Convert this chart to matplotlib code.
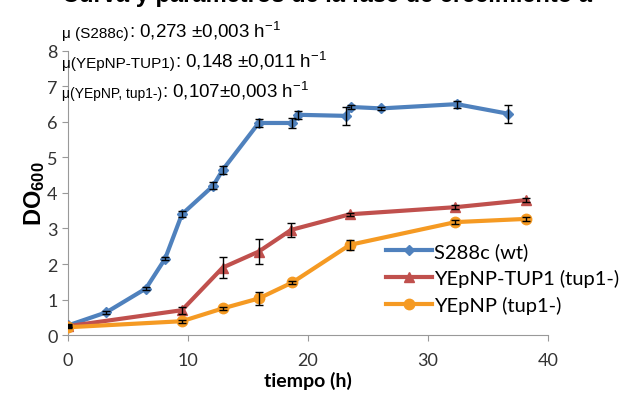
import matplotlib.pyplot as plt

plt.rcParams['font.family'] = ['Lato', 'DejaVu Sans']
plt.rcParams['mathtext.fontset'] = 'custom'
plt.rcParams['mathtext.rm'] = 'Liberation Sans'
plt.rcParams['mathtext.it'] = 'Liberation Sans'
plt.rcParams['mathtext.bf'] = 'Liberation Sans:bold'

# S288c (wt)
t_wt = [0, 3.2, 6.5, 8.1, 9.5, 12.1, 12.9, 15.9, 18.7, 19.2, 23.2, 23.6, 26.1, 32.4, 36.7]
do_wt = [0.27, 0.64, 1.31, 2.15, 3.4, 4.2, 4.65, 5.97, 5.97, 6.2, 6.17, 6.42, 6.38, 6.5, 6.23]
err_wt = [0.03, 0.05, 0.05, 0.05, 0.08, 0.1, 0.12, 0.1, 0.15, 0.12, 0.25, 0.05, 0.05, 0.1, 0.25]

# YEpNP-TUP1 (tup1-)
t_tup = [0, 9.5, 12.9, 15.9, 18.6, 23.5, 32.3, 38.2]
do_tup = [0.25, 0.7, 1.9, 2.35, 2.96, 3.4, 3.6, 3.8]
err_tup = [0.03, 0.1, 0.3, 0.35, 0.2, 0.05, 0.05, 0.05]

# YEpNP (tup1-)
t_ynp = [0, 9.5, 12.9, 15.9, 18.7, 23.5, 32.3, 38.2]
do_ynp = [0.22, 0.39, 0.75, 1.03, 1.48, 2.54, 3.18, 3.27]
err_ynp = [0.03, 0.04, 0.05, 0.18, 0.05, 0.15, 0.05, 0.05]

mu_labels = ["μ (S288c)", "μ(YEpNP-TUP1)", "μ(YEpNP, tup1-)"]
mu_values = [": 0,273 ±0,003 h$^{-1}$", ": 0,148 ±0,011 h$^{-1}$", ": 0,107±0,003 h$^{-1}$"]

W, H = 629, 402
fig = plt.figure(figsize=(W / 100, H / 100), dpi=100)
ax = fig.add_axes([0.108, 0.164, 0.763, 0.707])

series = [
    (t_wt, do_wt, err_wt, '#4F81BD', 'D', 5.5, 'S288c (wt)'),
    (t_tup, do_tup, err_tup, '#C0504D', '^', 7.5, 'YEpNP-TUP1 (tup1-)'),
    (t_ynp, do_ynp, err_ynp, '#F59A23', 'o', 7.5, 'YEpNP (tup1-)'),
]
for t, d, e, c, m, ms, lab in series:
    ax.plot(t, d, color=c, lw=3, marker=m, ms=ms, label=lab, zorder=3)
    ax.errorbar(t, d, yerr=e, fmt='none', ecolor='black', elinewidth=1,
                capsize=3, zorder=4)

ax.set_xlim(0, 40)
ax.set_ylim(0, 8)
ax.set_xticks([0, 10, 20, 30, 40])
ax.set_yticks(range(9))
for s in ['top', 'right']:
    ax.spines[s].set_visible(False)
for s in ['left', 'bottom']:
    ax.spines[s].set_color('#999999')
ax.tick_params(axis='both', labelsize=13, colors='#999999', labelcolor='#333333',
               direction='out', length=4)
ax.tick_params(axis='x', pad=8)

ax.set_xlabel('tiempo (h)', fontsize=14, fontweight='bold', labelpad=2)
ax.set_ylabel(r'DO$_{\mathbf{600}}$', fontsize=17, fontweight='bold', labelpad=0,
              fontfamily='Liberation Sans')

leg = ax.legend(loc='lower right', bbox_to_anchor=(1.165, 0.045), frameon=False,
                fontsize=14.5, handlelength=2.3, handletextpad=0.1, labelspacing=0.45,
                borderaxespad=0)

# growth rate annotations, big text on the same baseline as the small label
baselines = [38, 68, 98]
label_sizes = [11, 11, 10]
fig.canvas.draw()
r = fig.canvas.get_renderer()
for lab, val, yb, fs in zip(mu_labels, mu_values, baselines, label_sizes):
    y = 1 - yb / H
    t1 = fig.text(62 / W, y, lab, fontsize=fs, family='Liberation Sans', va='baseline')
    x1 = t1.get_window_extent(r).x1
    fig.text(x1 / W, y, val, fontsize=13.5, family='Liberation Sans', va='baseline')

fig.text(0.52, 1.0 - 2 / H, 'Curva y parámetros de la fase de crecimiento a',
         fontsize=17, fontweight='bold', ha='center', va='baseline',
         family='Liberation Sans')

fig.savefig('out.png', dpi=100)
